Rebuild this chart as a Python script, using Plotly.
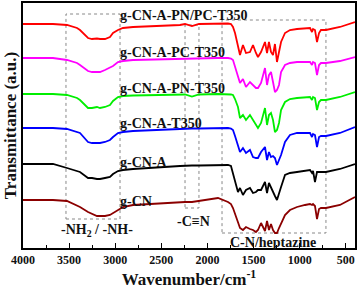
import plotly.graph_objects as go

# Wavenumber grid (cm-1)
wavenumber = [4000, 3675, 3523, 3414, 3382, 3295, 3252, 3198, 3165, 3111, 3057, 3024, 2970, 2916,
              2807, 2298, 2243, 2168, 2092, 1886, 1777, 1745, 1723, 1701, 1669, 1647, 1615, 1582,
              1539, 1506, 1474, 1452, 1419, 1376, 1354, 1333, 1311, 1289, 1268, 1246, 1224, 1202,
              1159, 1105, 1029, 942, 888, 866, 855, 834, 812, 790, 769, 715, 563, 400]

# Transmittance (a.u., stacked) for each sample
t_pnpc = [224, 224, 223, 220, 218, 210, 209, 209.5, 209, 209, 211, 215, 218, 220,
          221, 223, 224, 222, 224, 224.5, 224.5, 224, 221, 215, 201, 193, 203, 195,
          196, 203, 195, 191, 196, 206, 195, 206, 196, 193, 204, 186, 196, 206,
          215, 218, 219, 220, 220, 216, 219, 218, 206, 215, 218, 218, 221, 226]
t_pc = [190, 190, 188, 185, 183, 177, 176, 176, 176, 178, 180, 182, 186, 187,
        188, 189.5, 189.5, 189.5, 189.5, 190, 190, 189.5, 188, 182, 171, 165, 169, 161,
        166, 163, 160, 160, 165, 180, 163, 173, 176, 166, 156, 158, 163, 176,
        183, 185, 186, 186, 186, 183, 186, 185, 173, 183, 185, 185, 187, 191]
t_pn = [154, 154, 153, 150, 148, 140, 140, 141, 140, 141, 143, 147, 151, 152,
        152.5, 153.5, 153.5, 151.5, 153.5, 154, 154, 153.5, 153, 149, 141, 130, 133, 128,
        133, 128, 122, 120, 125, 140, 123, 133, 135, 128, 116, 118, 125, 138,
        146, 149, 150, 151, 151, 148, 151, 150, 138, 146, 148, 148, 151, 156]
t_a_t350 = [120, 120, 119, 116, 115, 106, 105, 105, 105, 106, 108, 111, 115, 116,
            117, 119, 119.5, 119.5, 119.5, 120, 120, 119.5, 118, 112, 102, 96, 100, 95,
            98, 91, 90, 90, 96, 101, 88, 96, 91, 92, 90, 83, 88, 93,
            106, 113, 115, 115, 115, 111, 114, 113, 101, 111, 112, 112, 115, 121]
t_a = [84, 84, 80, 77, 76, 70, 70, 69, 69, 70, 71, 74, 77, 78,
       79, 82, 82.5, 82.5, 82.5, 83, 83, 82, 75, 66, 56, 60, 53, 58,
       60, 55, 56, 58, 58, 66, 55, 65, 60, 56, 52, 48, 56, 61,
       73, 75, 76, 77, 78, 75, 77, 66, 76, 76, 76, 76, 79, 84]
t_cn = [48, 48, 47, 42, 41, 36, 34, 32, 32, 32, 33, 35, 38, 41,
        43, 46, 46, 46, 47, 50, 46, 44, 40, 34, 24, 20, 18, 21,
        19, 18, 16, 18, 25, 17, 27, 18, 24, 18, 15, 15, 20, 24,
        33, 38, 41, 43, 44, 43, 44, 42, 29, 39, 40, 40, 43, 51]

series_names = ["g-CN-A-PN/PC-T350", "g-CN-A-PC-T350", "g-CN-A-PN-T350", "g-CN-A-T350", "g-CN-A", "g-CN"]
series_values = [t_pnpc, t_pc, t_pn, t_a_t350, t_a, t_cn]
series_colors = ["#ff0000", "#ff00ff", "#00ee00", "#0000ff", "#000000", "#8b0000"]
label_y = [233, 196, 160, 125, 86, 47]
label_x = 2948

# Band regions (dashed boxes): x0, x1, y0, y1
band_boxes = [(3534, 2948, 29, 234), (2243, 2092, 40, 223), (1842, 715, 15, 228)]
band_labels = ["-NH<sub>2</sub> / -NH-", "-C≡N", "C-N/heptazine"]
band_label_pos = [(3198, 18), (2146, 27), (1290, 6)]

x_ticks = [4000, 3500, 3000, 2500, 2000, 1500, 1000, 500]

FONT = "Liberation Serif"

fig = go.Figure()
for name, vals, col in zip(series_names, series_values, series_colors):
    fig.add_trace(go.Scatter(x=wavenumber, y=vals, mode="lines", name=name,
                             line=dict(color=col, width=1.8), showlegend=False))

for name, ly in zip(series_names, label_y):
    fig.add_annotation(x=label_x, y=ly, text="<b>" + name + "</b>", showarrow=False,
                       xanchor="left", yanchor="middle", xshift=-2,
                       font=dict(family=FONT, size=14, color="#111"))

for (x0, x1, y0, y1) in band_boxes:
    fig.add_shape(type="rect", x0=x0, x1=x1, y0=y0, y1=y1, xref="x", yref="y",
                  line=dict(color="#888", width=1, dash="dot"), layer="below")

for txt, (lx, ly) in zip(band_labels, band_label_pos):
    fig.add_annotation(x=lx, y=ly, text="<b>" + txt + "</b>", showarrow=False,
                       xanchor="center", yanchor="middle",
                       font=dict(family=FONT, size=14, color="#111"))

fig.update_layout(
    width=358, height=291,
    margin=dict(l=23, r=3, t=3, b=43, autoexpand=False),
    plot_bgcolor="white", paper_bgcolor="white",
    font=dict(family=FONT, color="#111"),
    xaxis=dict(range=[4000, 400], tickvals=x_ticks, ticktext=["<b>%d</b>" % v for v in x_ticks],
               ticks="inside", ticklen=5, tickwidth=1.3, tickcolor="black",
               minor=dict(dtick=250, tick0=0, ticks="inside", ticklen=3, tickcolor="black"),
               showline=True, linecolor="black", linewidth=1.6, mirror=True,
               showgrid=False, zeroline=False, automargin=False,
               tickfont=dict(family=FONT, size=12, color="#111"),
               title=dict(text="<b>Wavenumber/cm<sup>-1</sup></b>", standoff=0,
                          font=dict(family=FONT, size=17, color="#111"))),
    yaxis=dict(range=[0, 245], showticklabels=False, ticks="",
               showline=True, linecolor="black", linewidth=1.6, mirror=True,
               showgrid=False, zeroline=False, automargin=False,
               title=dict(text="<b>Transmittance (a.u.)</b>", standoff=0,
                          font=dict(family=FONT, size=17, color="#111"))),
)

fig.write_html("out.html", config={"displayModeBar": False},
               post_script="document.body.style.margin='0';")
